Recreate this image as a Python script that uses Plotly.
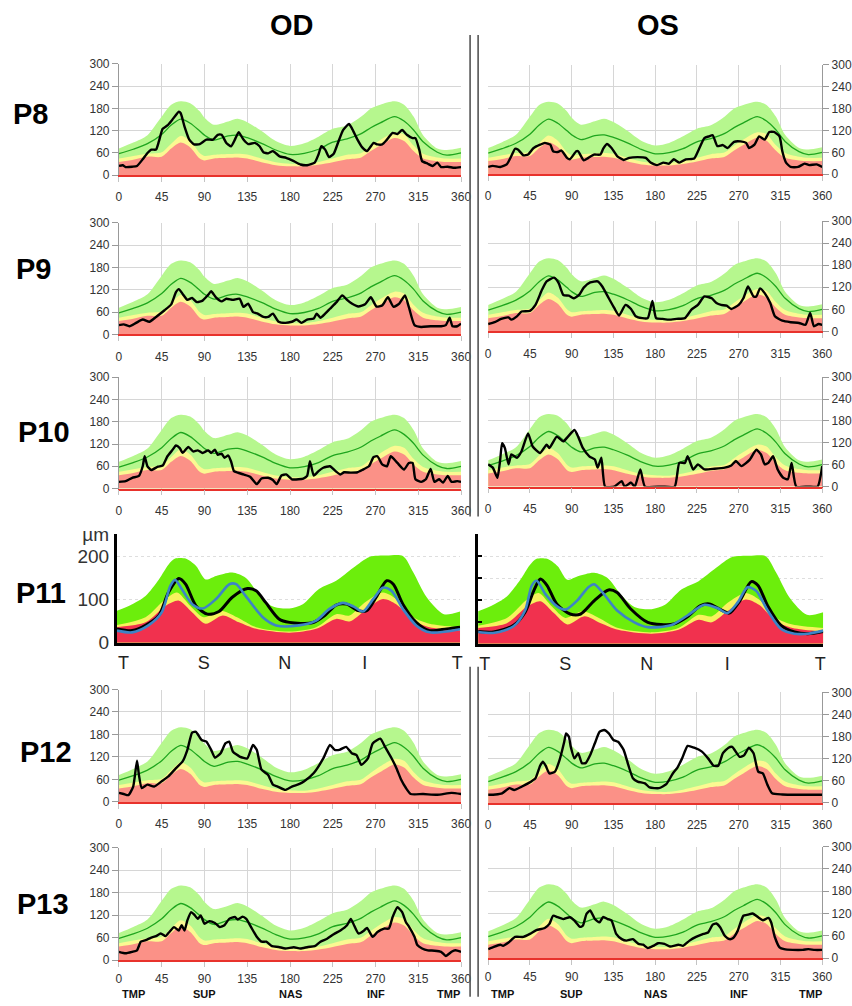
import plotly.graph_objects as go

W, H = 852, 1006

# ---------------- normative data (standard panels) ----------------
NORM_ANG = [0, 15, 30, 45, 55, 65, 75, 85, 90, 100, 115, 125, 135, 150, 165, 180, 195, 210, 225, 240, 255, 265, 275, 290, 300, 310, 320, 335, 345, 360]
NORM_P95 = [72, 88, 108, 158, 190, 199, 194, 172, 155, 136, 145, 152, 143, 119, 92, 79, 86, 104, 125, 134, 158, 180, 190, 199, 190, 158, 108, 72, 68, 74]
NORM_MEAN = [58, 70, 85, 110, 135, 151, 140, 119, 108, 95, 106, 108, 101, 86, 68, 56, 59, 70, 89, 98, 112, 128, 141, 158, 146, 122, 90, 62, 54, 60]
NORM_P5 = [45, 52, 58, 62, 85, 106, 92, 60, 52, 55, 57, 58, 56, 45, 35, 31, 30, 36, 45, 55, 60, 78, 95, 115, 110, 80, 58, 48, 45, 45]
NORM_P1 = [36, 42, 50, 50, 72, 88, 75, 45, 40, 45, 47, 48, 45, 35, 27, 24, 24, 28, 35, 43, 48, 65, 80, 100, 92, 65, 45, 38, 36, 36]

# ---------------- patient curves ----------------
P8_OD_A = [0,4,7,14,19,25,30,34,39,42,46,51,56,63,65,69,74,79,85,92,99,104,108,113,118,122,126,131,136,143,148,152,157,162,169,176,184,191,198,206,210,213,217,221,226,231,236,242,245,251,256,261,264,268,272,277,282,288,293,298,303,309,312,316,319,325,330,335,339,346,353,360]
P8_OD_V = [25,27,22,23,25,43,60,69,69,91,125,134,149,171,167,131,96,83,84,96,96,109,109,87,78,96,116,96,84,87,78,62,59,65,51,47,38,29,27,34,56,78,69,49,58,91,122,138,127,96,75,65,74,87,83,83,96,114,111,122,109,100,100,69,38,31,25,34,22,23,20,22]

P8_OS_A = [0,5,13,20,25,29,32,38,43,49,56,61,67,70,75,79,85,88,95,97,103,108,114,121,124,128,133,139,146,152,161,170,175,182,189,195,200,206,213,222,227,233,238,242,247,253,258,265,272,278,281,287,292,298,303,308,314,317,321,326,334,341,346,354,360]
P8_OS_V = [20,23,20,27,50,70,68,52,54,72,81,86,81,63,61,65,45,41,63,63,38,45,54,54,70,83,72,50,39,45,47,45,32,25,32,29,41,32,41,43,68,99,104,107,77,80,72,89,90,86,72,81,104,95,116,116,104,63,32,20,20,29,25,27,20]

P9_OD_A = [0,5,11,18,25,32,39,48,55,60,63,67,72,77,82,88,94,97,102,108,113,120,127,131,136,141,146,152,157,162,168,175,182,187,192,198,205,208,212,217,222,229,235,240,245,252,259,265,271,277,283,289,295,301,305,311,318,328,339,344,348,351,356,360]
P9_OD_V = [25,27,22,31,40,34,47,65,81,114,122,109,93,98,87,91,107,116,100,89,96,93,96,74,83,60,56,47,47,56,34,31,34,40,31,40,43,56,45,56,69,87,105,93,83,75,81,100,75,78,100,74,83,105,74,25,20,22,22,25,45,22,22,29]

P9_OS_A = [0,7,14,22,25,31,36,45,51,58,63,71,76,81,87,92,98,103,110,118,123,130,136,141,148,154,159,166,172,177,181,188,195,203,212,219,226,233,241,246,251,257,262,270,275,280,286,289,293,298,304,309,317,326,335,342,347,351,356,360]
P9_OS_V = [20,25,34,38,32,41,54,56,72,113,136,146,131,99,97,90,99,119,133,136,122,90,63,43,72,61,41,36,36,83,36,34,32,34,36,59,72,95,90,77,72,70,61,72,90,122,95,95,117,104,77,41,29,25,23,18,50,14,20,18]

P10_OD_A = [0,7,14,21,25,27,30,34,41,46,51,56,60,64,67,73,78,83,88,94,97,101,104,108,111,115,118,121,125,131,138,145,150,157,162,166,171,176,182,189,194,198,201,205,210,215,222,228,233,237,244,251,256,263,268,272,277,282,286,293,300,305,309,312,318,323,328,332,337,341,346,350,356,360]
P10_OD_V = [18,20,29,34,60,87,60,50,59,62,87,103,116,109,96,112,100,103,96,103,96,105,91,94,83,89,73,47,43,38,32,12,27,29,23,12,35,38,25,25,27,34,74,35,47,56,60,47,38,44,43,44,50,60,85,87,65,60,87,69,51,69,69,25,18,25,53,18,25,16,34,18,20,18]

P10_OS_A = [0,5,10,13,15,18,22,25,31,36,43,48,56,63,66,74,81,86,93,97,102,109,115,118,122,126,136,144,147,154,158,164,169,187,201,206,212,215,221,226,233,244,255,262,267,273,282,289,294,298,302,307,312,318,323,327,332,345,355,360]
P10_OS_V = [61,52,24,74,119,106,61,88,79,97,146,110,92,115,106,137,124,137,155,137,106,83,74,52,79,0,0,15,0,11,0,47,0,0,0,65,65,83,47,61,47,49,52,58,70,56,74,101,88,61,65,83,47,24,20,65,0,0,0,56]

P12_OD_A = [0,5,10,15,19,21,24,30,37,45,52,60,67,72,77,81,87,92,97,101,107,112,116,120,127,135,141,145,150,157,162,167,175,182,190,195,205,215,222,227,232,239,245,250,255,262,267,275,280,287,292,297,302,307,320,335,350,360]
P12_OD_V = [24,21,18,41,110,72,37,46,41,55,68,90,108,139,185,187,165,161,139,118,130,156,161,134,121,116,152,139,86,72,46,41,32,41,48,55,77,116,152,139,139,147,130,125,99,116,156,169,147,116,90,59,37,21,21,19,24,21]

P12_OS_A = [0,8,15,23,28,36,43,51,56,59,62,66,72,77,82,84,87,89,93,97,101,105,110,115,120,125,130,135,140,146,151,156,161,169,174,184,192,199,204,209,215,222,230,237,243,248,253,259,263,271,276,281,286,291,296,301,306,317,332,347,360]
P12_OS_V = [22,23,26,40,35,44,53,67,101,112,101,80,85,117,166,189,180,153,121,135,108,108,130,162,193,198,189,171,166,144,103,67,58,53,42,40,51,80,96,121,155,150,140,121,101,101,135,150,152,125,130,150,135,85,80,49,26,23,22,22,22]

P13_OD_A = [0,7,14,19,23,28,34,39,44,49,53,58,63,66,69,72,76,79,83,86,90,95,101,106,111,116,122,125,130,134,139,145,150,155,161,168,175,184,191,199,206,212,219,226,233,240,244,247,252,258,261,267,272,279,284,288,293,298,302,305,311,314,319,325,332,339,344,350,354,360]
P13_OD_V = [22,18,22,26,49,53,60,64,71,64,75,88,79,93,79,106,128,122,110,119,97,104,99,88,93,110,115,108,116,110,88,62,49,49,37,35,31,34,31,35,37,49,57,69,79,93,110,95,71,79,86,62,75,84,84,115,141,128,101,90,62,40,31,26,25,22,11,22,26,22]

P13_OS_A = [0,5,13,16,22,29,38,45,52,61,66,70,75,81,88,93,99,102,106,110,115,120,124,129,133,138,144,149,156,162,167,172,178,183,190,196,205,210,217,224,232,237,242,246,250,255,260,264,269,275,280,285,291,296,302,305,309,314,319,328,339,345,352,360]
P13_OS_V = [24,29,36,33,42,57,57,65,75,81,92,114,110,105,110,101,84,87,119,128,105,96,111,105,101,65,51,47,51,38,36,27,33,40,38,31,36,33,47,57,65,69,90,93,83,60,51,54,74,114,117,120,110,102,108,96,56,29,24,22,22,24,22,22]

# ---------------- P11 (different device) ----------------
P11_GREEN_ANG = [0,16,30,44,54,61,72,83,93,104,121,135,149,163,181,195,212,230,248,265,283,300,311,325,343,360]
P11_GREEN = [74,89,108,146,180,194,194,177,146,154,162,150,112,84,79,89,124,143,173,198,201,200,162,105,66,72]
P11_YEL_ANG = [0,30,51,63,77,91,109,126,146,181,209,230,244,260,279,293,311,328,360]
P11_YEL = [41,59,101,116,85,59,74,59,36,26,36,66,63,93,116,101,59,44,36]
P11_RED_ANG = [0,30,51,65,79,93,111,128,146,181,209,230,244,260,279,293,311,328,360]
P11_RED = [36,47,85,97,70,44,63,47,32,23,32,55,49,74,101,89,51,36,28]

P11_OD_BLACK_A = [0,16,30,44,54,65,72,83,95,107,121,137,146,156,170,181,205,218,230,241,253,262,272,283,290,300,314,328,346,360]
P11_OD_BLACK = [32,28,40,63,116,148,135,85,66,72,105,125,120,93,55,47,46,63,87,89,74,74,105,143,135,89,47,28,32,36]
P11_OD_BLUE_A = [0,16,33,47,56,61,68,79,90,104,118,125,135,153,167,191,209,223,237,248,258,269,279,288,300,314,328,346,360]
P11_OD_BLUE = [28,24,40,70,131,145,124,89,79,101,135,135,108,59,40,40,51,78,92,84,72,101,127,120,78,40,24,26,31]

P11_OS_BLACK_A = [0,16,37,49,58,65,72,82,96,107,121,136,145,159,177,204,218,232,241,253,262,273,285,292,302,316,330,344,360]
P11_OS_BLACK = [28,27,42,72,121,148,133,91,68,68,98,123,117,80,49,45,61,87,91,78,70,98,142,133,87,42,27,23,28]
P11_OS_BLUE_A = [0,17,37,49,56,61,70,82,91,103,115,121,131,145,163,177,201,218,236,250,260,271,281,290,302,316,330,344,360]
P11_OS_BLUE = [27,25,40,76,133,144,114,86,78,98,129,136,114,76,49,38,42,64,89,81,70,95,129,121,76,34,23,23,30]

STD_TICKS_X = [0, 45, 90, 135, 180, 225, 270, 315, 360]
STD_TICKS_Y = [0, 60, 120, 180, 240, 300]
P11_TICK_POS = [7, 91, 176, 260, 357]
P11_TICK_TEXT = ["T", "S", "N", "I", "T"]
SECTOR_POS = [15, 90, 180, 270, 347]
SECTOR_TEXT = ["TMP", "SUP", "NAS", "INF", "TMP"]

# ---------------- styling ----------------
FONT = "Liberation Sans, Arial, sans-serif"
GREEN_FILL = "#b6f78e"
YELLOW_FILL = "#fbf992"
RED_FILL = "#fb9187"
MEAN_COL = "#1ea51e"
GRID = "#d6d6d6"

P11_GREEN_FILL = "#6cee0c"
P11_YELLOW_FILL = "#f7f25e"
P11_RED_FILL = "#f1314e"
P11_BLUE = "#3d84c6"

# map reference pixel positions to figure positions (the photographed page is
# fitted slightly smaller into the window)
SX = W / (W + 16.0)
SY = H / (H + 16.0)
OFF_X = 4.5
OFF_Y = 8.0


def px(x):
    return (x / SX - OFF_X) / W


def py(y):
    return 1 - (y / SY - OFF_Y) / H


fig = go.Figure()
layout = {}
annotations = []
counter = [0]


def next_axes():
    counter[0] += 1
    k = counter[0]
    s = "" if k == 1 else str(k)
    return s


def add_standard(eye, ang, val, xpix, ypix, sectors=False):
    s = next_axes()
    xa, ya = "x" + s, "y" + s
    for yv, col in [(NORM_P95, GREEN_FILL), (NORM_P5, YELLOW_FILL), (NORM_P1, RED_FILL)]:
        fig.add_trace(go.Scatter(x=NORM_ANG, y=yv, xaxis=xa, yaxis=ya, mode="lines",
                                 line=dict(width=0, shape="spline", smoothing=0.8),
                                 fill="tozeroy", fillcolor=col, hoverinfo="skip", showlegend=False))
    fig.add_trace(go.Scatter(x=NORM_ANG, y=NORM_MEAN, xaxis=xa, yaxis=ya, mode="lines",
                             line=dict(color=MEAN_COL, width=1.3, shape="spline", smoothing=0.8),
                             hoverinfo="skip", showlegend=False))
    fig.add_trace(go.Scatter(x=ang, y=val, xaxis=xa, yaxis=ya, mode="lines",
                             line=dict(color="black", width=2.4, shape="spline", smoothing=0.5),
                             showlegend=False))
    layout["xaxis" + s] = dict(domain=[px(xpix[0]), px(xpix[1])], range=[0, 360], anchor=ya,
                               tickvals=STD_TICKS_X, showgrid=True, gridcolor=GRID, gridwidth=1,
                               ticks="outside", ticklen=5, tickcolor="#c4c4c4",
                               showline=True, linecolor="#e8322c", linewidth=1.5, zeroline=False,
                               ticklabelstandoff=2 if sectors else 5,
                               tickfont=dict(family=FONT, size=12, color="#333"), fixedrange=True)
    layout["yaxis" + s] = dict(domain=[py(ypix[1]), py(ypix[0])], range=[0, 300], anchor=xa,
                               tickvals=STD_TICKS_Y, showgrid=True, gridcolor=GRID, gridwidth=1,
                               ticks="outside", ticklen=6, tickcolor="#999",
                               showline=True, linecolor="#999", linewidth=1, zeroline=False,
                               side="left" if eye == "OD" else "right",
                               tickfont=dict(family=FONT, size=12, color="#333"), fixedrange=True)
    if sectors:
        for pos, txt in zip(SECTOR_POS, SECTOR_TEXT):
            annotations.append(dict(x=pos, y=py(997), xref=xa, yref="paper", text="<b>%s</b>" % txt,
                                    showarrow=False, font=dict(family=FONT, size=11, color="#111"),
                                    xanchor="center", yanchor="middle"))


def add_p11(eye, black_a, black_v, blue_a, blue_v, xpix, ypix):
    s = next_axes()
    xa, ya = "x" + s, "y" + s
    for aa, yv, col in [(P11_GREEN_ANG, P11_GREEN, P11_GREEN_FILL),
                        (P11_YEL_ANG, P11_YEL, P11_YELLOW_FILL),
                        (P11_RED_ANG, P11_RED, P11_RED_FILL)]:
        fig.add_trace(go.Scatter(x=aa, y=yv, xaxis=xa, yaxis=ya, mode="lines",
                                 line=dict(width=0, shape="spline", smoothing=0.8),
                                 fill="tozeroy", fillcolor=col, hoverinfo="skip", showlegend=False))
    fig.add_trace(go.Scatter(x=black_a, y=black_v, xaxis=xa, yaxis=ya, mode="lines",
                             line=dict(color="black", width=3, shape="spline", smoothing=0.8),
                             showlegend=False))
    fig.add_trace(go.Scatter(x=blue_a, y=blue_v, xaxis=xa, yaxis=ya, mode="lines",
                             line=dict(color=P11_BLUE, width=2.6, shape="spline", smoothing=0.8),
                             showlegend=False))
    layout["xaxis" + s] = dict(domain=[px(xpix[0]), px(xpix[1])], range=[0, 360], anchor=ya,
                               tickvals=P11_TICK_POS, ticktext=P11_TICK_TEXT, ticks="",
                               showgrid=False, showline=True, linecolor="black", linewidth=3,
                               zeroline=False, ticklabelstandoff=2,
                               tickfont=dict(family=FONT, size=18, color="#222"), fixedrange=True)
    ydict = dict(domain=[py(ypix[1]), py(ypix[0])], range=[0, 250], anchor=xa,
                 showgrid=True, gridcolor="#dedede", griddash="dot", gridwidth=1,
                 showline=True, linecolor="black", linewidth=3, zeroline=False, fixedrange=True)
    if eye == "OD":
        ydict.update(tickvals=[0, 100, 200, 250], ticktext=["0", "100", "200", "µm"], ticks="",
                     tickfont=dict(family=FONT, size=19, color="#333"), ticklabelstandoff=1)
    else:
        ydict.update(tickvals=[50, 100, 150, 200, 250], showticklabels=False, ticks="inside",
                     ticklen=4, tickcolor="black", tickwidth=2)
    layout["yaxis" + s] = ydict


OD_X = (120, 461)
OS_X = (488, 821)

add_standard("OD", P8_OD_A, P8_OD_V, OD_X, (62, 174))
add_standard("OS", P8_OS_A, P8_OS_V, OS_X, (63, 173))
add_standard("OD", P9_OD_A, P9_OD_V, OD_X, (222, 334))
add_standard("OS", P9_OS_A, P9_OS_V, OS_X, (220, 331))
add_standard("OD", P10_OD_A, P10_OD_V, OD_X, (377, 489))
add_standard("OS", P10_OS_A, P10_OS_V, OS_X, (377, 487))
add_p11("OD", P11_OD_BLACK_A, P11_OD_BLACK, P11_OD_BLUE_A, P11_OD_BLUE, (118, 460), (535, 644))
add_p11("OS", P11_OS_BLACK_A, P11_OS_BLACK, P11_OS_BLUE_A, P11_OS_BLUE, (478, 822), (535, 645))
add_standard("OD", P12_OD_A, P12_OD_V, OD_X, (691, 804))
add_standard("OS", P12_OS_A, P12_OS_V, OS_X, (694, 805))
add_standard("OD", P13_OD_A, P13_OD_V, OD_X, (850, 963), sectors=True)
add_standard("OS", P13_OS_A, P13_OS_V, OS_X, (849, 961), sectors=True)

# row labels and eye titles
ROW_LABELS = [("P8", 32, 112), ("P9", 35, 268), ("P10", 45, 432), ("P11", 42, 594),
              ("P12", 47, 754), ("P13", 44, 907)]
for txt, x, y in ROW_LABELS:
    annotations.append(dict(x=px(x), y=py(y), xref="paper", yref="paper", text="<b>%s</b>" % txt,
                            showarrow=False, font=dict(family=FONT, size=29, color="black"),
                            xanchor="center", yanchor="middle"))
for txt, x in [("OD", 292), ("OS", 657)]:
    annotations.append(dict(x=px(x), y=py(23), xref="paper", yref="paper", text="<b>%s</b>" % txt,
                            showarrow=False, font=dict(family=FONT, size=29, color="black"),
                            xanchor="center", yanchor="middle"))

# double separator between eyes (interrupted at P11 row)
shapes = []
for xx in (470, 478):
    for y0, y1 in [(33, 517), (668, 1000)]:
        shapes.append(dict(type="line", xref="paper", yref="paper", x0=px(xx), x1=px(xx),
                           y0=py(y0), y1=py(y1), line=dict(color="#555", width=1.6)))

layout.update(width=W, height=H, margin=dict(l=0, r=0, t=0, b=0), paper_bgcolor="white",
              plot_bgcolor="white", showlegend=False, annotations=annotations, shapes=shapes,
              font=dict(family=FONT))
fig.update_layout(**layout)
fig.write_html("out.html")
